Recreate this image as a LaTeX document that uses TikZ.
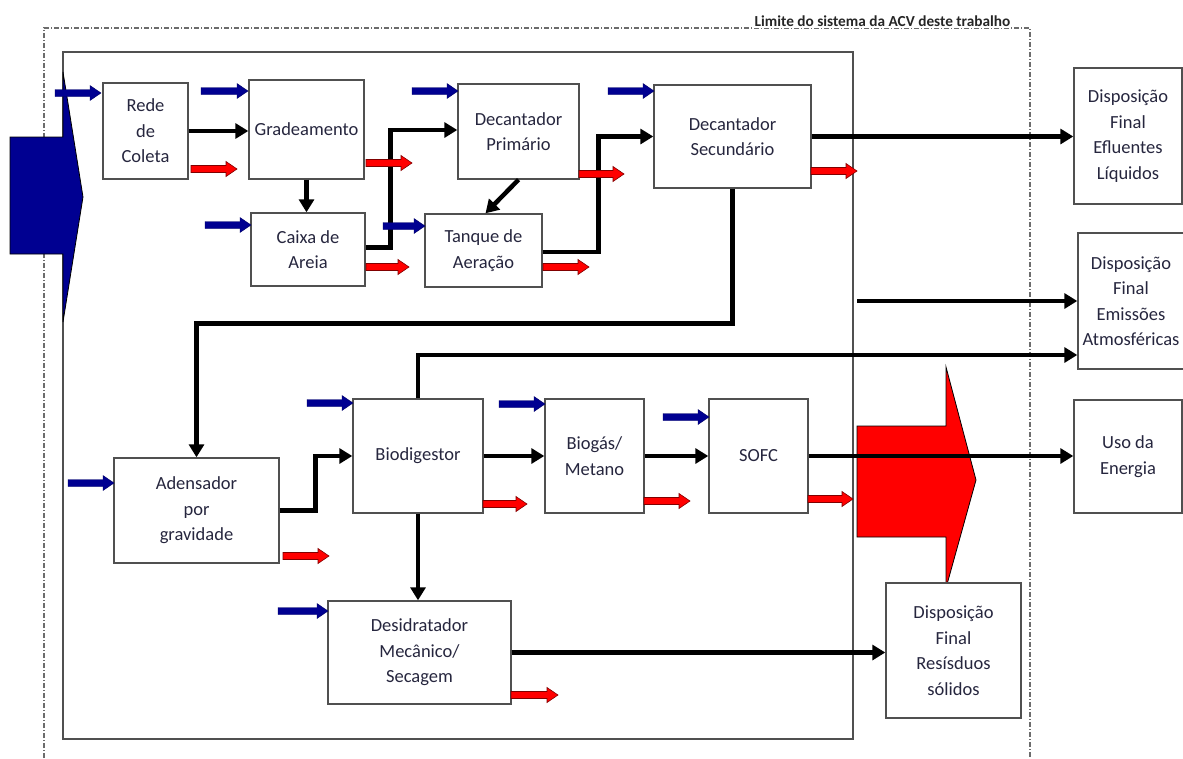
\documentclass[tikz,border=0pt]{standalone}
\usepackage{fontspec}
\setmainfont{Carlito}
\usetikzlibrary{arrows.meta,calc}
\definecolor{navy}{RGB}{0,0,145}
\definecolor{txt}{RGB}{38,38,62}
\definecolor{boxln}{RGB}{80,80,80}
\tikzset{
 box/.style={draw=boxln, line width=1.4pt, fill=white, align=center, text=txt, font=\fontsize{18.5}{25.5}\selectfont, inner sep=0pt},
 conn/.style={line width=4.5pt, -{Triangle[length=13pt,width=15pt]}},
 inarr/.style={fill=navy, draw=navy!70!black, line width=0.4pt},
 outarr/.style={fill=red, draw=red!50!black, line width=0.6pt},
 bigarr/.style={draw=black, line width=0.8pt},
 limit/.style={draw=gray!85!black, line width=1.1pt, dash pattern=on 5pt off 2pt on 1pt off 2pt},
}
\newcommand\blockarrow[4]{\filldraw[#1] (#2,#4-3.5) -- (#3-11,#4-3.5) -- (#3-11,#4-7.5) -- (#3,#4) -- (#3-11,#4+7.5) -- (#3-11,#4+3.5) -- (#2,#4+3.5) -- cycle;}
\begin{document}
\begin{tikzpicture}[x=1pt,y=-1pt]
\clip (0,0) rectangle (1183,758);
\fill[white] (0,0) rectangle (1183,758);
% system limit
\draw[limit] (44,758) -- (44,28) -- (1030,28) -- (1030,758);
\node[font=\fontsize{15.3}{17}\selectfont\bfseries, anchor=base, text=black!85, fill=white, inner sep=1pt] (lim) at (882.5,26.5) {Limite do sistema da ACV deste trabalho};
% inner boundary
\draw[draw=boxln, line width=1.3pt] (63,52) rectangle (853,739);
% big arrows
\filldraw[bigarr, fill=navy] (10,137) -- (63,137) -- (63,72) -- (83,197) -- (63,322) -- (63,254) -- (10,254) -- cycle;
\filldraw[bigarr, fill=red] (857,426) -- (946,426) -- (946,367) -- (976,480) -- (946,588) -- (946,537) -- (857,537) -- cycle;
% boxes
\node[box, minimum width=85pt, minimum height=96pt] (rede) at (145.5,131) {Rede\\de\\Coleta};
\node[box, minimum width=115pt, minimum height=99pt] (grad) at (306.5,129.5) {Gradeamento};
\node[box, minimum width=114pt, minimum height=73pt] (caixa) at (308,249.5) {Caixa de\\Areia};
\node[box, minimum width=121pt, minimum height=95pt] (decp) at (518.5,131.5) {Decantador\\Primário};
\node[box, minimum width=117pt, minimum height=73pt] (tanque) at (483.5,250.5) {Tanque de\\Aeração};
\node[box, minimum width=157pt, minimum height=103pt] (decs) at (732.5,136.5) {Decantador\\Secundário};
\node[box, minimum width=108pt, minimum height=136pt] (eflu) at (1128,136) {Disposição\\Final\\Efluentes\\Líquidos};
\node[box, minimum width=106pt, minimum height=136pt] (emis) at (1131,301) {Disposição\\Final\\Emissões\\Atmosféricas};
\node[box, minimum width=108pt, minimum height=113pt] (uso) at (1128,456.5) {Uso da\\Energia};
\node[box, minimum width=165pt, minimum height=105pt] (aden) at (196.5,510.5) {Adensador\\por\\gravidade};
\node[box, minimum width=130pt, minimum height=114pt] (bio) at (418,456) {Biodigestor};
\node[box, minimum width=99pt, minimum height=114pt] (biog) at (594.5,456) {Biogás/\\Metano};
\node[box, minimum width=99pt, minimum height=114pt] (sofc) at (758.5,456) {SOFC};
\node[box, minimum width=183pt, minimum height=103pt] (desid) at (419.5,652.5) {Desidratador\\Mecânico/\\Secagem};
\node[box, minimum width=135pt, minimum height=135pt] (resid) at (953.5,650.5) {Disposição\\Final\\Resísduos\\sólidos};
% connectors
\draw[conn] (rede.east) -- (rede.east -| grad.west);
\draw[conn] (grad.south) -- (grad.south |- caixa.north);
\draw[conn] ([yshift=2pt]caixa.east) -- ++(25,0) |- ([yshift=1.5pt]decp.west);
\draw[conn] (decp.south) -- ([xshift=2pt]tanque.north);
\draw[conn] ([yshift=-1.5pt]tanque.east) -- ++(56,0) |- (decs.west);
\draw[conn] (decs.east) -- (decs.east -| eflu.west);
\draw[conn] (decs.south) -- ++(0,135) -| (aden.north);
\draw[conn] (aden.east) -- ++(36,0) |- (bio.west);
\draw[conn] (bio.east) -- (biog.west);
\draw[conn] (biog.east) -- (sofc.west);
\draw[conn] (sofc.east) -- (sofc.east -| uso.west);
\draw[conn] (bio.north) |- ([yshift=-54pt]emis.west);
\coordinate (emisfrom) at (857,301);
\draw[conn] (emisfrom) -- (emisfrom -| emis.west);
\draw[conn] (bio.south) -- (bio.south |- desid.north);
\draw[conn] (desid.east) -- (desid.east -| resid.west);
% inputs (blue)
\blockarrow{inarr}{55}{101}{93}
\blockarrow{inarr}{201}{248}{91}
\blockarrow{inarr}{205}{251}{225}
\blockarrow{inarr}{412}{458}{91}
\blockarrow{inarr}{383}{425}{226}
\blockarrow{inarr}{608}{654}{91}
\blockarrow{inarr}{68}{114}{483}
\blockarrow{inarr}{307}{353}{403}
\blockarrow{inarr}{499}{545}{404}
\blockarrow{inarr}{663}{709}{417}
\blockarrow{inarr}{278}{328}{611}
% outputs (red)
\blockarrow{outarr}{191}{237}{169}
\blockarrow{outarr}{366}{412}{163}
\blockarrow{outarr}{366}{409}{267}
\blockarrow{outarr}{579}{624}{174}
\blockarrow{outarr}{543}{589}{267}
\blockarrow{outarr}{811}{857}{171}
\blockarrow{outarr}{283}{329}{556}
\blockarrow{outarr}{483}{527}{504}
\blockarrow{outarr}{644}{690}{501}
\blockarrow{outarr}{808}{853}{499}
\blockarrow{outarr}{511}{558}{695}
\end{tikzpicture}
\end{document}
